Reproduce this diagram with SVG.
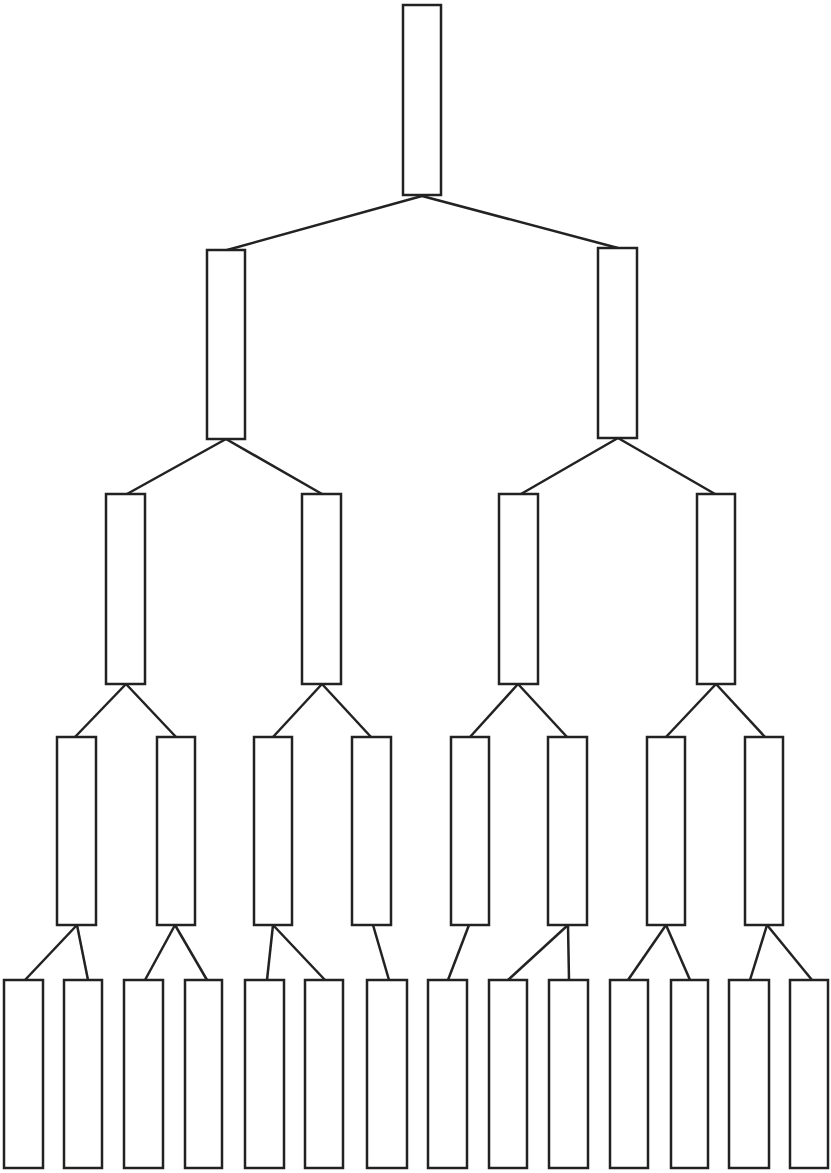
<svg xmlns="http://www.w3.org/2000/svg" width="831" height="1173" viewBox="0 0 831 1173">
<style>
rect{fill:#fff;stroke:#222;stroke-width:2.5}
line{stroke:#222;stroke-width:2.5}
</style>
<rect x="0" y="0" width="831" height="1173" style="stroke:none;fill:#fff"/>
<g id="connectors">
<line x1="422" y1="196" x2="227" y2="250"/>
<line x1="422" y1="196" x2="618" y2="248"/>
<line x1="226" y1="439" x2="127" y2="494"/>
<line x1="226" y1="439" x2="322" y2="494"/>
<line x1="618" y1="438" x2="521" y2="494"/>
<line x1="618" y1="438" x2="715" y2="494"/>
<line x1="126" y1="684" x2="75" y2="737"/>
<line x1="126" y1="684" x2="176" y2="737"/>
<line x1="322" y1="684" x2="273" y2="737"/>
<line x1="322" y1="684" x2="371" y2="737"/>
<line x1="518" y1="684" x2="470" y2="737"/>
<line x1="518" y1="684" x2="567" y2="737"/>
<line x1="716" y1="684" x2="666" y2="737"/>
<line x1="716" y1="684" x2="765" y2="737"/>
<line x1="77" y1="925" x2="25" y2="980"/>
<line x1="77" y1="925" x2="88" y2="980"/>
<line x1="175" y1="925" x2="145" y2="980"/>
<line x1="175" y1="925" x2="207" y2="980"/>
<line x1="273" y1="925" x2="267" y2="980"/>
<line x1="273" y1="925" x2="325" y2="980"/>
<line x1="373" y1="925" x2="389" y2="980"/>
<line x1="469" y1="925" x2="448" y2="980"/>
<line x1="568" y1="925" x2="508" y2="980"/>
<line x1="568" y1="925" x2="569" y2="980"/>
<line x1="666" y1="925" x2="628" y2="980"/>
<line x1="666" y1="925" x2="690" y2="980"/>
<line x1="767" y1="925" x2="750" y2="980"/>
<line x1="767" y1="925" x2="812" y2="980"/>
</g>
<g id="n1"><rect x="403" y="5" width="38" height="190"/></g>
<g id="n2"><rect x="207" y="250" width="38" height="189"/></g>
<g id="n3"><rect x="598" y="248" width="39" height="190"/></g>
<g id="n4"><rect x="106" y="494" width="39" height="190"/></g>
<g id="n5"><rect x="302" y="494" width="39" height="190"/></g>
<g id="n6"><rect x="499" y="494" width="39" height="190"/></g>
<g id="n7"><rect x="697" y="494" width="38" height="190"/></g>
<g id="n8"><rect x="57" y="737" width="39" height="188"/></g>
<g id="n9"><rect x="157" y="737" width="38" height="188"/></g>
<g id="n10"><rect x="254" y="737" width="38" height="188"/></g>
<g id="n11"><rect x="352" y="737" width="39" height="188"/></g>
<g id="n12"><rect x="451" y="737" width="38" height="188"/></g>
<g id="n13"><rect x="548" y="737" width="39" height="188"/></g>
<g id="n14"><rect x="647" y="737" width="38" height="188"/></g>
<g id="n15"><rect x="745" y="737" width="38" height="188"/></g>
<g id="n16"><rect x="4" y="980" width="39" height="188"/></g>
<g id="n17"><rect x="64" y="980" width="38" height="188"/></g>
<g id="n18"><rect x="124" y="980" width="39" height="188"/></g>
<g id="n19"><rect x="185" y="980" width="37" height="188"/></g>
<g id="n20"><rect x="245" y="980" width="39" height="188"/></g>
<g id="n21"><rect x="305" y="980" width="38" height="188"/></g>
<g id="n22"><rect x="367" y="980" width="40" height="188"/></g>
<g id="n23"><rect x="428" y="980" width="39" height="188"/></g>
<g id="n24"><rect x="489" y="980" width="38" height="188"/></g>
<g id="n25"><rect x="549" y="980" width="39" height="188"/></g>
<g id="n26"><rect x="610" y="980" width="38" height="188"/></g>
<g id="n27"><rect x="671" y="980" width="37" height="188"/></g>
<g id="n28"><rect x="729" y="980" width="40" height="188"/></g>
<g id="n29"><rect x="790" y="980" width="38" height="188"/></g>
</svg>
